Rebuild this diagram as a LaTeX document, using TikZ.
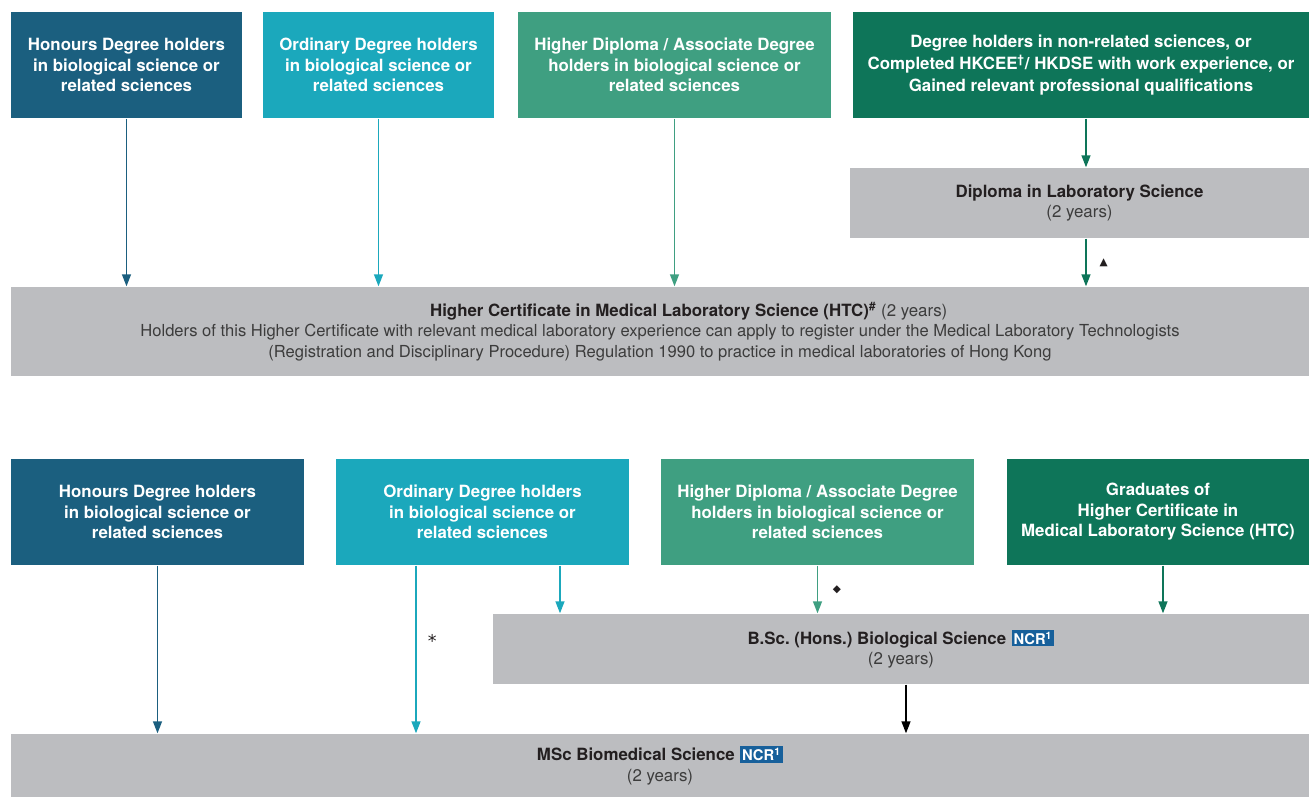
\documentclass[tikz,border=0pt]{standalone}
\usepackage{fontspec}
\setmainfont{TeX Gyre Heros}
\newfontfamily\symfont{DejaVu Sans}
\usetikzlibrary{arrows.meta}
\frenchspacing
\definecolor{hon}{HTML}{1B5F7F}
\definecolor{ord}{HTML}{1BA8BC}
\definecolor{hdip}{HTML}{3F9F81}
\definecolor{oth}{HTML}{0E7559}
\definecolor{grey}{HTML}{BCBDC0}
\definecolor{ink}{HTML}{231F20}
\definecolor{yrs}{HTML}{3C3C3C}
\definecolor{ncrblue}{HTML}{17609B}
\newcommand{\ncrtag}{\hspace{3pt}{\setlength{\fboxsep}{1.2pt}\colorbox{ncrblue}{\textcolor{white}{\bfseries\fontsize{8.4}{8.4}\selectfont NCR\textsuperscript{1}}}}}
\newcommand{\mk}[2][6]{{\symfont\fontsize{#1}{#1}\selectfont #2}}
\begin{document}
\begin{tikzpicture}
			[x=0.02cm,y=-0.02cm,
			entry/.style={rectangle,minimum height=2.12cm,inner sep=0pt,align=center,text=white,font=\bfseries\fontsize{9.6}{11.7}\selectfont},
			course/.style={rectangle,fill=grey,inner sep=0pt,align=center,text=yrs,font=\fontsize{9.6}{11.7}\selectfont},
			>={Triangle[length=2.4mm,width=1.8mm]},line width=0.8pt]
			\useasboundingbox(0,0)rectangle(1309,797);
			% first route
			\node[entry,name=a1,fill=hon,minimum width=4.62cm]at(126.5,65){Honours Degree holders\\in biological science or\\related sciences};
			\node[entry,name=a2,fill=ord,minimum width=4.62cm]at(378.5,65){Ordinary Degree holders\\in biological science or\\related sciences};
			\node[entry,name=a3,fill=hdip,minimum width=6.26cm]at(674.5,65){Higher Diploma / Associate Degree\\holders in biological science or\\related sciences};
			\node[entry,name=a4,fill=oth,minimum width=9.12cm,font=\bfseries\fontsize{9.6}{12.6}\selectfont]at(1081,65){Degree holders in non-related sciences, or\\Completed HKCEE\textsuperscript{\dag}/ HKDSE with work experience, or\\Gained relevant professional qualifications};
			\node[course,name=dls,minimum width=9.18cm,minimum height=1.4cm]at(1079.5,203){\textcolor{ink}{\bfseries Diploma in Laboratory Science}\\(2 years)};
			\node[course,name=htc,minimum width=25.96cm,minimum height=1.78cm]at(660,331.5){\hspace*{1.15cm}\textcolor{ink}{\bfseries Higher Certificate in Medical Laboratory Science (HTC)\textsuperscript{\#}} (2 years)\\\fontsize{9.43}{11.7}\selectfont Holders of this Higher Certificate with relevant medical laboratory experience can apply to register under the Medical Laboratory Technologists\\\fontsize{9.43}{11.7}\selectfont(Registration and Disciplinary Procedure) Regulation 1990 to practice in medical laboratories of Hong Kong};
			\draw[->,hon](a1)--(a1|-htc.north);
			\draw[->,ord](a2)--(a2|-htc.north);
			\draw[->,hdip](a3)--(a3|-htc.north);
			\draw[->,oth]([xshift=0.1cm]a4.south)--([xshift=0.1cm]a4.south|-dls.north);
			\draw[->,oth]([xshift=0.13cm]dls.south)--node[midway,right=4pt,text=ink]{\mk{▲}}([xshift=0.13cm]dls.south|-htc.north);
			% second route
			\node[entry,name=b1,fill=hon,minimum width=5.86cm]at(157.5,512){Honours Degree holders\\in biological science or\\related sciences};
			\node[entry,name=b2,fill=ord,minimum width=5.86cm]at(482.5,512){Ordinary Degree holders\\in biological science or\\related sciences};
			\node[entry,name=b3,fill=hdip,minimum width=6.26cm]at(817.5,512){Higher Diploma / Associate Degree\\holders in biological science or\\related sciences};
			\node[entry,name=b4,fill=oth,minimum width=6.04cm]at(1158,512){Graduates of\\Higher Certificate in\\Medical Laboratory Science (HTC)};
			\node[course,name=bsc,minimum width=16.32cm,minimum height=1.4cm]at(901,649){\textcolor{ink}{\bfseries B.Sc. (Hons.) Biological Science}\ncrtag\\(2 years)};
			\node[course,name=msc,minimum width=25.96cm,minimum height=1.26cm]at(660,765.5){\textcolor{ink}{\bfseries MSc Biomedical Science}\ncrtag\\(2 years)};
			\draw[->,hon](b1)--(b1|-msc.north);
			\draw[->,ord]([xshift=-1.33cm]b2.south)--node[pos=.45,right=3pt,text=ink]{\mk[10]{*}}([xshift=-1.33cm]b2.south|-msc.north);
			\draw[->,ord]([xshift=1.55cm]b2.south)--([xshift=1.55cm]b2.south|-bsc.north);
			\draw[->,hdip](b3)--node[midway,right=5pt,text=ink]{\mk{◆}}(b3|-bsc.north);
			\draw[->,oth]([xshift=0.1cm]b4.south)--([xshift=0.1cm]b4.south|-bsc.north);
			\draw[->,black]([xshift=0.1cm]bsc.south)--([xshift=0.1cm]bsc.south|-msc.north);
		\end{tikzpicture}
\end{document}
